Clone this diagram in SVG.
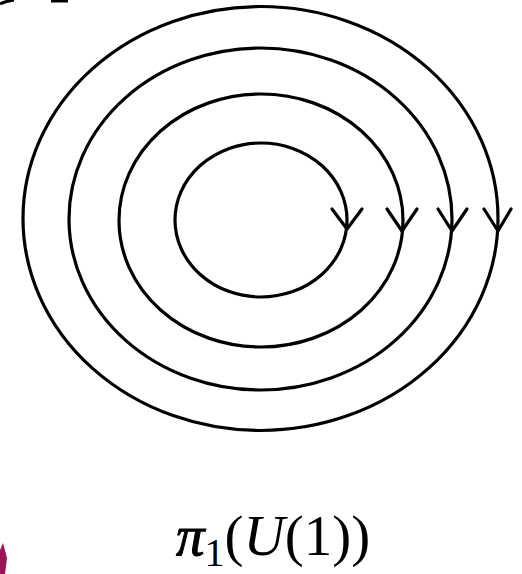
<svg xmlns="http://www.w3.org/2000/svg" width="522" height="574" viewBox="0 0 522 574">
<style>
.loop{fill:none;stroke:#000;stroke-width:3.2}
.head{fill:none;stroke:#000;stroke-width:3.2;stroke-linecap:round;stroke-linejoin:round}
.lbl{font-family:"Liberation Serif","DejaVu Serif",serif;fill:#000}
</style>
<rect width="522" height="574" fill="#fff"/>
<g id="artifacts">
<path d="M0,4 Q6,1 14,0" fill="none" stroke="#000" stroke-width="3"/>
<rect x="51" y="0" width="17" height="2.5" fill="#000"/>
<path d="M0,574 L0,550 L3,543 L7,558 L5,574 Z" fill="#9c1457"/>
</g>
<g id="loop4"><ellipse class="loop" cx="260.5" cy="218.5" rx="237.5" ry="212"/></g>
<g id="loop3"><ellipse class="loop" cx="260.5" cy="219" rx="191.5" ry="171"/></g>
<g id="loop2"><ellipse class="loop" cx="261" cy="220.5" rx="142" ry="126.5"/></g>
<g id="loop1"><ellipse class="loop" cx="261" cy="220" rx="86" ry="77"/></g>
<g id="connectors">
<polyline class="head" points="332,209 347,229 362,209"/>
<polyline class="head" points="387,209 402,231 417,209"/>
<polyline class="head" points="438,209 452,231 467,209"/>
<polyline class="head" points="484,209 498,231 511,209"/>
</g>
<g id="label">
<text class="lbl" x="176" y="555" font-size="57"><tspan font-style="italic" stroke="#000" stroke-width="1">π</tspan><tspan font-size="40" dy="11">1</tspan><tspan dy="-11">(</tspan><tspan font-style="italic">U</tspan><tspan>(1))</tspan></text>
</g>
</svg>
